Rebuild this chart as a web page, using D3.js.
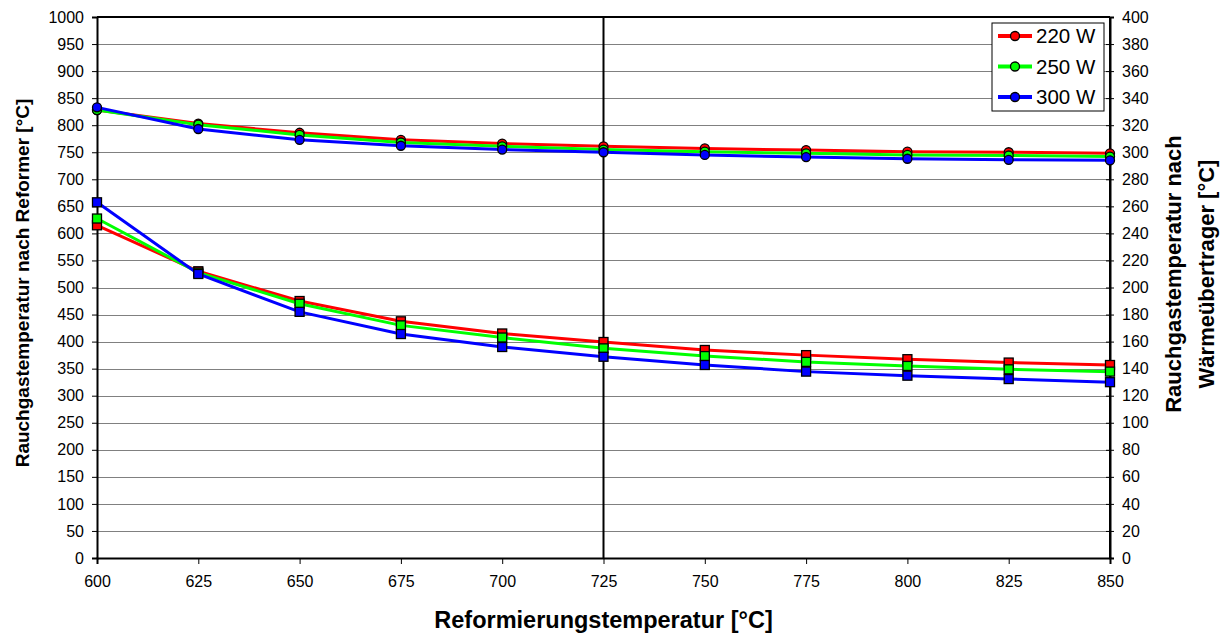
<!DOCTYPE html>
<html>
<head>
<meta charset="utf-8">
<script src="https://cdn.jsdelivr.net/npm/d3@7"></script>
<style>
  body { margin: 0; background: #fff; }
  svg { font-family: "Liberation Sans", Arial, sans-serif; }
</style>
</head>
<body>
<div id="chart"></div>
<script>
// reforming temperatures (x categories)
var temps = [600, 625, 650, 675, 700, 725, 750, 775, 800, 825, 850];

var seriesNames = ["220 W", "250 W", "300 W"];
var seriesColors = ["#ff0000", "#00ff00", "#0000ff"];

// flue gas temperature after reformer (left axis)
var reformer220 = [828, 803, 786, 773, 766, 761, 757, 754, 751, 750, 748];
var reformer250 = [828, 801, 782, 768, 761, 755, 751, 748, 745, 744, 742];
var reformer300 = [833, 793, 773, 762, 755, 750, 745, 741, 738, 736, 735];

// flue gas temperature after heat exchanger (right axis)
var hx220 = [246, 212, 190, 175, 166, 159.7, 153.8, 150, 147, 144.5, 142.7];
var hx250 = [251, 211, 188, 172, 163, 155, 149.3, 145, 142, 139.5, 137.8];
var hx300 = [263, 210, 182, 165.6, 156, 148.8, 142.7, 137.8, 134.8, 132.3, 130];

var leftTicks = d3.range(0, 1001, 50);
var rightTicks = d3.range(0, 401, 20);
var markLine = 725;

var margin = {top: 17, right: 116, bottom: 77, left: 97},
    W = 1226, H = 635,
    width = W - margin.left - margin.right,
    height = H - margin.top - margin.bottom;

var svg = d3.select("#chart").append("svg")
    .attr("width", W)
    .attr("height", H);

var g = svg.append("g")
    .attr("transform", "translate(" + margin.left + "," + margin.top + ")");

var x = d3.scaleLinear().domain([600, 850]).range([0, width]);
var yL = d3.scaleLinear().domain([0, 1000]).range([height, 0]);
var yR = d3.scaleLinear().domain([0, 400]).range([height, 0]);

// horizontal grid
g.selectAll("line.grid")
    .data(leftTicks.slice(1, -1))
    .enter().append("line")
    .attr("class", "grid")
    .attr("x1", 0).attr("x2", width)
    .attr("y1", function(d) { return Math.round(yL(d)) + 0.5; })
    .attr("y2", function(d) { return Math.round(yL(d)) + 0.5; })
    .attr("stroke", "#808080")
    .attr("stroke-width", 1);

// plot frame top/right
g.append("line").attr("x1", 0).attr("x2", width).attr("y1", 0).attr("y2", 0)
    .attr("stroke", "#000").attr("stroke-width", 2);
g.append("line").attr("x1", width).attr("x2", width).attr("y1", 0).attr("y2", height)
    .attr("stroke", "#000").attr("stroke-width", 2);

// vertical marker line at 725
g.append("line")
    .attr("x1", x(markLine)).attr("x2", x(markLine))
    .attr("y1", 0).attr("y2", height)
    .attr("stroke", "#000").attr("stroke-width", 2);

// axes
var xAxis = g.append("g")
    .attr("transform", "translate(0," + height + ")")
    .call(d3.axisBottom(x).tickValues(temps).tickSize(6).tickPadding(12).tickFormat(d3.format("d")));
var leftAxis = g.append("g")
    .call(d3.axisLeft(yL).tickValues(leftTicks).tickSize(5).tickPadding(8).tickFormat(d3.format("d")));
var rightAxis = g.append("g")
    .attr("transform", "translate(" + width + ",0)")
    .call(d3.axisRight(yR).tickValues(rightTicks).tickSize(4).tickPadding(8).tickFormat(d3.format("d")));

[xAxis, leftAxis, rightAxis].forEach(function(a) {
  a.select(".domain").attr("stroke", "#000").attr("stroke-width", 2);
  a.selectAll(".tick line").attr("stroke", "#000");
  a.selectAll(".tick text")
      .attr("font-family", "Liberation Sans, Arial, sans-serif")
      .attr("font-size", "16px")
      .attr("fill", "#000");
});
rightAxis.selectAll(".tick line").attr("x1", -4);

// series
var upper = [reformer220, reformer250, reformer300];
var lower = [hx220, hx250, hx300];

var lineL = d3.line().x(function(d, i) { return x(temps[i]); }).y(function(d) { return yL(d); });
var lineR = d3.line().x(function(d, i) { return x(temps[i]); }).y(function(d) { return yR(d); });

upper.forEach(function(vals, k) {
  g.append("path")
      .datum(vals)
      .attr("fill", "none")
      .attr("stroke", seriesColors[k])
      .attr("stroke-width", 3)
      .attr("d", lineL);
  g.selectAll("circle.s" + k)
      .data(vals)
      .enter().append("circle")
      .attr("class", "s" + k)
      .attr("cx", function(d, i) { return x(temps[i]); })
      .attr("cy", function(d) { return yL(d); })
      .attr("r", 4.5)
      .attr("fill", seriesColors[k])
      .attr("stroke", "#000")
      .attr("stroke-width", 1.3);
});

lower.forEach(function(vals, k) {
  g.append("path")
      .datum(vals)
      .attr("fill", "none")
      .attr("stroke", seriesColors[k])
      .attr("stroke-width", 3)
      .attr("d", lineR);
  g.selectAll("rect.s" + k)
      .data(vals)
      .enter().append("rect")
      .attr("class", "s" + k)
      .attr("x", function(d, i) { return x(temps[i]) - 4.5; })
      .attr("y", function(d) { return yR(d) - 4.5; })
      .attr("width", 9)
      .attr("height", 9)
      .attr("fill", seriesColors[k])
      .attr("stroke", "#000")
      .attr("stroke-width", 1.3);
});

// legend
var lg = svg.append("g").attr("transform", "translate(992,23)");
lg.append("rect")
    .attr("width", 112).attr("height", 88)
    .attr("fill", "#fff").attr("stroke", "#000").attr("stroke-width", 1);
seriesNames.forEach(function(name, k) {
  var yy = 13 + k * 30.5;
  lg.append("line")
      .attr("x1", 6).attr("x2", 40).attr("y1", yy).attr("y2", yy)
      .attr("stroke", seriesColors[k]).attr("stroke-width", 4);
  lg.append("circle")
      .attr("cx", 23).attr("cy", yy).attr("r", 4.5)
      .attr("fill", seriesColors[k]).attr("stroke", "#000").attr("stroke-width", 1.3);
  lg.append("text")
      .attr("x", 44).attr("y", yy + 7)
      .attr("font-size", "20.5px")
      .text(name);
});

// axis titles
svg.append("text")
    .attr("x", margin.left + width / 2)
    .attr("y", 628)
    .attr("text-anchor", "middle")
    .attr("font-size", "23.5px")
    .attr("font-weight", "bold")
    .text("Reformierungstemperatur [°C]");

svg.append("text")
    .attr("transform", "translate(29,283) rotate(-90)")
    .attr("text-anchor", "middle")
    .attr("font-size", "19px")
    .attr("font-weight", "bold")
    .text("Rauchgastemperatur nach Reformer [°C]");

svg.append("text")
    .attr("transform", "translate(1181,274) rotate(-90)")
    .attr("text-anchor", "middle")
    .attr("font-size", "22px")
    .attr("font-weight", "bold")
    .text("Rauchgastemperatur nach");
svg.append("text")
    .attr("transform", "translate(1214,274) rotate(-90)")
    .attr("text-anchor", "middle")
    .attr("font-size", "22px")
    .attr("font-weight", "bold")
    .text("Wärmeübertrager [°C]");
</script>
</body>
</html>
